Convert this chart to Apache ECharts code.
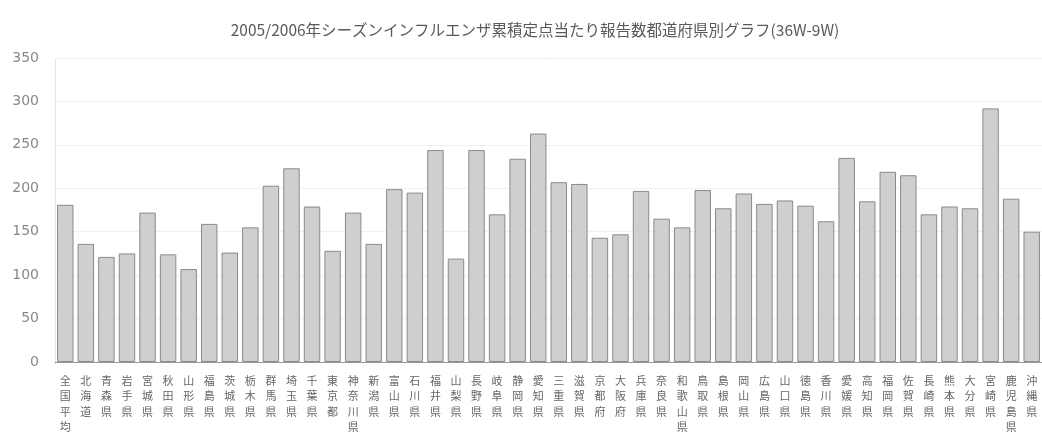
<!DOCTYPE html>
<html>
<head>
<meta charset="utf-8">
<script src="https://cdn.jsdelivr.net/npm/echarts@6/dist/echarts.min.js"></script>
<style>
  html, body { margin: 0; padding: 0; background: #fff; }
  #chart { width: 1042px; height: 435px; }
</style>
</head>
<body>
<div id="chart"></div>
<script>
// 都道府県名(先頭は全国平均)
const prefectures = [
  '全国平均', '北海道', '青森県', '岩手県', '宮城県', '秋田県', '山形県', '福島県',
  '茨城県', '栃木県', '群馬県', '埼玉県', '千葉県', '東京都', '神奈川県', '新潟県',
  '富山県', '石川県', '福井県', '山梨県', '長野県', '岐阜県', '静岡県', '愛知県',
  '三重県', '滋賀県', '京都府', '大阪府', '兵庫県', '奈良県', '和歌山県', '鳥取県',
  '島根県', '岡山県', '広島県', '山口県', '徳島県', '香川県', '愛媛県', '高知県',
  '福岡県', '佐賀県', '長崎県', '熊本県', '大分県', '宮崎県', '鹿児島県', '沖縄県'
];

// 累積定点当たり報告数(36W-9W)
const reportsPerSentinel = [
  181, 136, 121, 125, 172, 124, 107, 159,
  126, 155, 203, 223, 179, 128, 172, 136,
  199, 195, 244, 119, 244, 170, 234, 263,
  207, 205, 143, 147, 197, 165, 155, 198,
  177, 194, 182, 186, 180, 162, 235, 185,
  219, 215, 170, 179, 177, 292, 188, 150
];

// 縦軸目盛
const yTicks = [0, 50, 100, 150, 200, 250, 300, 350];

const chart = echarts.init(document.getElementById('chart'), null, { renderer: 'canvas' });

chart.setOption({
  backgroundColor: '#ffffff',
  animation: false,
  title: {
    text: '2005/2006年シーズンインフルエンザ累積定点当たり報告数都道府県別グラフ(36W-9W)',
    left: 530,
    textAlign: 'center',
    top: 17,
    textStyle: {
      fontFamily: 'Noto Sans CJK JP',
      fontSize: 15.5,
      fontWeight: 'normal',
      color: '#5a5a5a'
    }
  },
  grid: {
    left: 55,
    top: 58,
    width: 993,
    bottom: 70
  },
  xAxis: {
    type: 'category',
    data: prefectures,
    axisLine: { show: true, lineStyle: { color: '#999' } },
    axisTick: { show: false },
    axisLabel: {
      interval: 0,
      margin: 11,
      fontFamily: 'Noto Sans CJK JP',
      fontSize: 11,
      lineHeight: 15.5,
      color: '#666',
      formatter: name => name.split('').join('\n')
    }
  },
  yAxis: {
    type: 'value',
    min: yTicks[0],
    max: yTicks[yTicks.length - 1],
    interval: yTicks[1] - yTicks[0],
    axisLine: { show: false },
    axisTick: { show: false },
    axisLabel: {
      margin: 16,
      fontFamily: 'DejaVu Sans',
      fontSize: 14,
      color: '#888'
    },
    splitLine: {
      show: true,
      lineStyle: { color: '#f0f0f0', width: 1 }
    }
  },
  series: [{
    type: 'bar',
    data: reportsPerSentinel,
    barCategoryGap: '20%',
    itemStyle: {
      color: '#cfcfcf',
      borderColor: '#8a8a8a',
      borderWidth: 1
    }
  }],
  graphic: [{
    // 上端の枠線
    type: 'line',
    shape: { x1: 55, y1: 58.5, x2: 1030, y2: 58.5 },
    style: { stroke: '#bdbdbd', lineWidth: 1 }
  }, {
    // 左端の枠線
    type: 'line',
    shape: { x1: 55.5, y1: 58, x2: 55.5, y2: 365 },
    style: { stroke: '#e6e6e6', lineWidth: 1 }
  }]
});
</script>
</body>
</html>
